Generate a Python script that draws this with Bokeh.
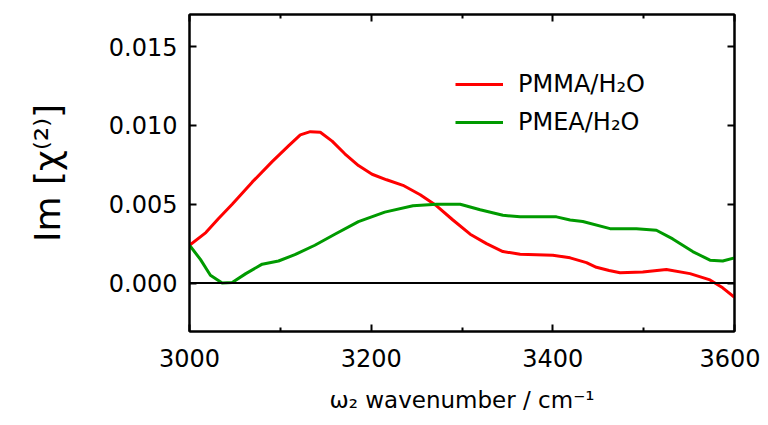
from bokeh.plotting import figure
from bokeh.models import (Range1d, LinearAxis, FixedTicker, Span, Legend, LegendItem,
                          NumeralTickFormatter, CustomJSTickFormatter)
from bokeh.embed import file_html
from bokeh.resources import INLINE

# ---- data ----
pmma_x = [3000, 3018, 3032, 3047, 3069, 3091, 3109, 3122, 3133, 3144, 3157, 3171, 3186,
          3201, 3217, 3235, 3254, 3272, 3290, 3309, 3327, 3345, 3364, 3400, 3419, 3437,
          3448, 3462, 3474, 3499, 3525, 3551, 3573, 3587, 3600]
pmma_y = [0.0024, 0.0032, 0.0041, 0.0050, 0.0064, 0.0077, 0.0087, 0.0094, 0.0096, 0.00956,
          0.0090, 0.0082, 0.00745, 0.0069, 0.00655, 0.0062, 0.0056, 0.0049, 0.0040, 0.0031,
          0.0025, 0.0020, 0.00183, 0.00177, 0.0016, 0.0013, 0.0010, 0.0008, 0.00065, 0.0007,
          0.00086, 0.0006, 0.0002, -0.0003, -0.0009]
pmea_x = [3000, 3012, 3023, 3036, 3047, 3062, 3080, 3098, 3116, 3138, 3160, 3186, 3215,
          3246, 3272, 3298, 3320, 3345, 3364, 3404, 3419, 3433, 3463, 3492, 3514, 3532,
          3554, 3573, 3587, 3600]
pmea_y = [0.0024, 0.0015, 0.0005, 0.0000, 0.00004, 0.0006, 0.0012, 0.0014, 0.0018, 0.0024,
          0.0031, 0.0039, 0.0045, 0.0049, 0.0050, 0.0050, 0.00465, 0.0043, 0.0042, 0.0042,
          0.0040, 0.0039, 0.00345, 0.00345, 0.00335, 0.0028, 0.0020, 0.00145, 0.0014, 0.0016]
series_labels = ["PMMA/H\u2082O", "PMEA/H\u2082O"]
x_ticks = [3000, 3200, 3400, 3600]
x_minor_ticks = [3100, 3300, 3500]
y_ticks = [0.0, 0.005, 0.010, 0.015]

FONT = "DejaVu Sans"

p = figure(width=760, height=420, output_backend="svg", toolbar_location=None,
           x_range=Range1d(3000, 3600), y_range=Range1d(-0.00307, 0.01703),
           min_border_left=189, min_border_right=26, min_border_top=14, min_border_bottom=89,
           background_fill_color="white", border_fill_color="white")
p.xgrid.visible = False
p.ygrid.visible = False
p.outline_line_color = "black"
p.outline_line_width = 2
p.outline_line_alpha = 1

def style_axis(ax):
    ax.axis_line_color = "black"
    ax.axis_line_width = 2
    ax.major_tick_line_color = "black"
    ax.major_tick_line_width = 2
    ax.minor_tick_line_color = "black"
    ax.minor_tick_line_width = 2
    ax.major_tick_in = 7
    ax.major_tick_out = 0
    ax.minor_tick_in = 4
    ax.minor_tick_out = 0
    ax.major_label_text_font = FONT
    ax.major_label_text_font_size = "24px"
    ax.major_label_text_color = "black"

xa = p.xaxis[0]
style_axis(xa)
xa.ticker = FixedTicker(ticks=x_ticks, minor_ticks=x_minor_ticks)
xa.major_label_standoff = 17
xa.axis_label = "\u03c9\u2082 wavenumber / cm\u207b\u00b9"
xa.axis_label_text_font = FONT
xa.axis_label_text_font_size = "23px"
xa.axis_label_text_font_style = "normal"
xa.axis_label_text_color = "black"
xa.axis_label_standoff = 17

ya = p.yaxis[0]
style_axis(ya)
ya.ticker = FixedTicker(ticks=y_ticks, minor_ticks=[])
ya.formatter = NumeralTickFormatter(format="0.000")
ya.major_label_standoff = 12
ya.axis_label = "Im [\u03c7\u207d\u00b2\u207e]"
ya.axis_label_text_font = FONT
ya.axis_label_text_font_size = "36px"
ya.axis_label_text_font_style = "normal"
ya.axis_label_text_color = "black"
ya.axis_label_standoff = 38

empty = CustomJSTickFormatter(code="return ''")
top = LinearAxis(ticker=FixedTicker(ticks=x_ticks, minor_ticks=x_minor_ticks), formatter=empty)
style_axis(top)
top.major_label_standoff = 0
top.major_label_text_font_size = "1px"
p.add_layout(top, "above")

right = LinearAxis(ticker=FixedTicker(ticks=y_ticks, minor_ticks=[]), formatter=empty)
style_axis(right)
right.major_label_standoff = 0
right.major_label_text_font_size = "1px"
p.add_layout(right, "right")

p.add_layout(Span(location=0, dimension="width", line_color="black", line_width=2))

r1 = p.line(pmma_x, pmma_y, line_color="#ff0000", line_width=3, line_join="round")
r2 = p.line(pmea_x, pmea_y, line_color="#009a00", line_width=3, line_join="round")

legend = Legend(items=[LegendItem(label=series_labels[0], renderers=[r1]),
                       LegendItem(label=series_labels[1], renderers=[r2])],
                location=(266, 194), padding=0, margin=0, spacing=8,
                glyph_width=48, glyph_height=30, label_height=30, label_standoff=15,
                label_text_font=FONT, label_text_font_size="24px", label_text_color="black",
                border_line_color=None, background_fill_alpha=0)
p.add_layout(legend)

open("out.html", "w").write(file_html(p, INLINE))
